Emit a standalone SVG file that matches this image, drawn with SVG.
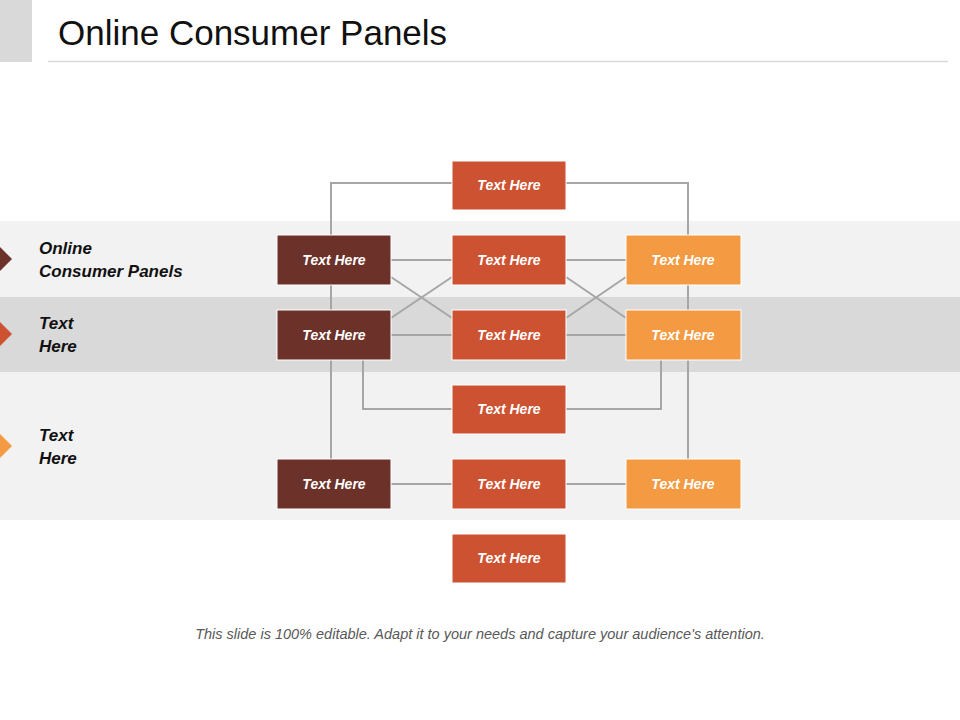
<svg xmlns="http://www.w3.org/2000/svg" width="960" height="720" viewBox="0 0 960 720">
<style>
.b{stroke:#fff;stroke-width:1}
.d{fill:#6c3129}.m{fill:#cd5232}.o{fill:#f39a42}
.bt{font-family:"Liberation Sans",Arial,sans-serif;font-size:14px;font-style:italic;font-weight:bold;fill:#fff;text-anchor:middle}
.lt{font-family:"Liberation Sans",Arial,sans-serif;font-size:17px;font-style:italic;font-weight:bold;fill:#111}
.c{stroke:#a6a6a6;stroke-width:2;fill:none}
</style>
<rect width="960" height="720" fill="#fff"/>
<rect x="0" y="0" width="32" height="62" fill="#d9d9d9"/>
<text x="58" y="45" font-family="'Liberation Sans',Arial,sans-serif" font-size="35" fill="#111">Online Consumer Panels</text>
<line x1="48" y1="61.5" x2="948" y2="61.5" stroke="#d9d9d9" stroke-width="1.5"/>
<rect x="0" y="221" width="960" height="76" fill="#f2f2f2"/>
<rect x="0" y="297" width="960" height="75" fill="#d9d9d9"/>
<rect x="0" y="372" width="960" height="148" fill="#f2f2f2"/>
<polygon points="0,247 12,259 0,271" fill="#6c3129"/>
<polygon points="0,322 12,334 0,346" fill="#cd5232"/>
<polygon points="0,434 12,446 0,458" fill="#f39a42"/>
<text class="lt" x="39" y="254">Online</text>
<text class="lt" x="39" y="277">Consumer Panels</text>
<text class="lt" x="39" y="329">Text</text>
<text class="lt" x="39" y="352">Here</text>
<text class="lt" x="39" y="441">Text</text>
<text class="lt" x="39" y="464">Here</text>
<g id="connectors">
<path class="c" d="M452 183H331V235M566 183H688V235"/>
<path class="c" d="M331 285V310M331 360V459M688 285V310M688 360V459"/>
<path class="c" d="M391 260H452M391 335H452M566 260H626M566 335H626M391 484H452M566 484H626"/>
<path class="c" d="M391 277L452 318M391 318L452 277M566 277L626 318M566 318L626 277"/>
<path class="c" d="M363 360V409H452M661 360V409H566"/>
</g>
<g id="n1"><rect class="b m" x="452" y="161" width="114" height="49"/><text class="bt" x="509" y="190">Text Here</text></g>
<g id="n2"><rect class="b d" x="277" y="235" width="114" height="50"/><text class="bt" x="334" y="265">Text Here</text></g>
<g id="n3"><rect class="b m" x="452" y="235" width="114" height="50"/><text class="bt" x="509" y="265">Text Here</text></g>
<g id="n4"><rect class="b o" x="626" y="235" width="115" height="50"/><text class="bt" x="683" y="265">Text Here</text></g>
<g id="n5"><rect class="b d" x="277" y="310" width="114" height="50"/><text class="bt" x="334" y="340">Text Here</text></g>
<g id="n6"><rect class="b m" x="452" y="310" width="114" height="50"/><text class="bt" x="509" y="340">Text Here</text></g>
<g id="n7"><rect class="b o" x="626" y="310" width="115" height="50"/><text class="bt" x="683" y="340">Text Here</text></g>
<g id="n8"><rect class="b m" x="452" y="385" width="114" height="49"/><text class="bt" x="509" y="414">Text Here</text></g>
<g id="n9"><rect class="b d" x="277" y="459" width="114" height="50"/><text class="bt" x="334" y="489">Text Here</text></g>
<g id="n10"><rect class="b m" x="452" y="459" width="114" height="50"/><text class="bt" x="509" y="489">Text Here</text></g>
<g id="n11"><rect class="b o" x="626" y="459" width="115" height="50"/><text class="bt" x="683" y="489">Text Here</text></g>
<g id="n12"><rect class="b m" x="452" y="534" width="114" height="49"/><text class="bt" x="509" y="563">Text Here</text></g>
<text x="480" y="639" text-anchor="middle" font-family="'Liberation Sans',Arial,sans-serif" font-size="14.5" font-style="italic" fill="#595959">This slide is 100% editable. Adapt it to your needs and capture your audience's attention.</text>
</svg>
